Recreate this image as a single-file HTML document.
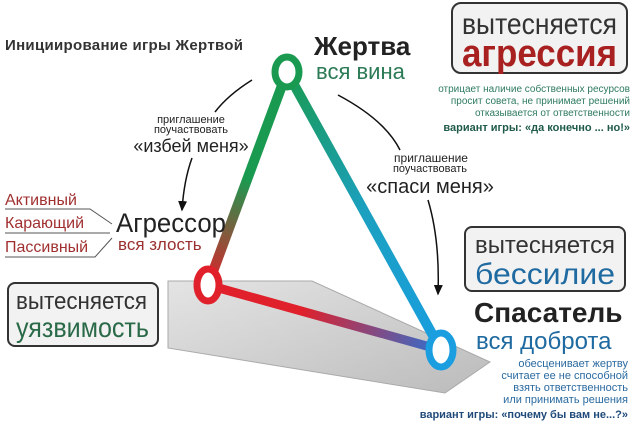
<!DOCTYPE html>
<html><head><meta charset="utf-8"><style>
html,body{margin:0;padding:0;background:#fff}
svg{display:block;font-family:"Liberation Sans","DejaVu Sans",sans-serif}
</style></head><body>
<svg width="635" height="425" viewBox="0 0 635 425" xmlns="http://www.w3.org/2000/svg">
<defs>
<linearGradient id="g1" gradientUnits="userSpaceOnUse" x1="287" y1="72" x2="208" y2="285"><stop offset="0.5" stop-color="#1a9a50"/><stop offset="1" stop-color="#e0202a"/></linearGradient>
<linearGradient id="g2" gradientUnits="userSpaceOnUse" x1="287" y1="72" x2="441" y2="350"><stop offset="0" stop-color="#1a9a50"/><stop offset="0.5" stop-color="#1ba0c0"/><stop offset="1" stop-color="#1a9ee0"/></linearGradient>
<linearGradient id="g3" gradientUnits="userSpaceOnUse" x1="208" y1="285" x2="441" y2="350"><stop offset="0.4" stop-color="#e0202a"/><stop offset="1" stop-color="#3070d0"/></linearGradient>
<linearGradient id="gr" x1="0" y1="0" x2="1" y2="1"><stop offset="0" stop-color="#e4e4e4"/><stop offset="1" stop-color="#bbb"/></linearGradient>
<marker id="ah" markerWidth="8" markerHeight="8" refX="6" refY="4" orient="auto"><path d="M0,1 L7,4 L0,7 Z" fill="#111"/></marker>
</defs>
<polygon points="168,281 312,281 490,362 445,393 168,348" fill="url(#gr)" stroke="#aaa" stroke-width="1"/>
<line x1="287" y1="72" x2="208" y2="285" stroke="url(#g1)" stroke-width="10"/>
<line x1="287" y1="72" x2="441" y2="350" stroke="url(#g2)" stroke-width="10"/>
<line x1="208" y1="285" x2="441" y2="350" stroke="url(#g3)" stroke-width="9"/>
<ellipse cx="287" cy="72" rx="12" ry="15" fill="#fff" stroke="#1a9a50" stroke-width="7"/>
<ellipse cx="208" cy="285" rx="11" ry="16" fill="#fff" stroke="#e0202a" stroke-width="7"/>
<ellipse cx="441" cy="350" rx="12" ry="17" fill="#fff" stroke="#1a9ee0" stroke-width="7"/>
<g fill="none" stroke="#111" stroke-width="1.5">
<path d="M252,80 Q228,95 215,112"/>
<path d="M192,158 Q184,180 182,210" marker-end="url(#ah)"/>
<path d="M338,95 Q385,120 400,150"/>
<path d="M428,200 Q440,240 438,294" marker-end="url(#ah)"/>
</g>
<text x="5" y="50" font-size="15" font-weight="bold" fill="#333" textLength="238">Инициирование игры Жертвой</text>
<text x="314" y="55" font-size="26" font-weight="bold" fill="#222">Жертва</text>
<text x="316" y="79" font-size="22" fill="#2a7a55">вся вина</text>
<rect x="452" y="3" width="175" height="70" rx="9" fill="#f2f2f2" stroke="#333" stroke-width="2"/>
<text x="462" y="34" font-size="30" fill="#333" textLength="155" lengthAdjust="spacingAndGlyphs">вытесняется</text>
<text x="462" y="66" font-size="38" font-weight="bold" fill="#a82020" textLength="155" lengthAdjust="spacingAndGlyphs">агрессия</text>
<g font-size="10" fill="#2e7a62" text-anchor="end">
<text x="630" y="92">отрицает наличие собственных ресурсов</text>
<text x="630" y="104">просит совета, не принимает решений</text>
<text x="630" y="116">отказывается от ответственности</text>
</g>
<text x="630" y="131" font-size="11" font-weight="bold" fill="#1f5a4a" text-anchor="end">вариант игры: «да конечно ... но!»</text>
<g text-anchor="middle" fill="#222">
<text x="431" y="162" font-size="12">приглашение</text>
<text x="430" y="172" font-size="11">поучаствовать</text>
<text x="430" y="193" font-size="20">«спаси меня»</text>
<text x="191" y="123" font-size="11">приглашение</text>
<text x="191" y="133" font-size="11">поучаствовать</text>
<text x="191" y="152" font-size="18">«избей меня»</text>
</g>
<text x="116" y="232" font-size="27" fill="#222" textLength="110" lengthAdjust="spacingAndGlyphs">Агрессор</text>
<text x="118" y="250" font-size="17" fill="#9a3030">вся злость</text>
<g font-size="16" fill="#a03030">
<text x="5" y="205">Активный</text>
<text x="5" y="228">Карающий</text>
<text x="5" y="252">Пассивный</text>
</g>
<g fill="none" stroke="#555" stroke-width="1">
<polyline points="5,209 90,209 112,224"/>
<line x1="5" y1="233" x2="110" y2="233"/>
<polyline points="5,257 95,257 112,238"/>
</g>
<rect x="8" y="283" width="150" height="63" rx="7" fill="#f2f2f2" stroke="#333" stroke-width="2"/>
<text x="16" y="309" font-size="24" fill="#333" textLength="131" lengthAdjust="spacingAndGlyphs">вытесняется</text>
<text x="16" y="337" font-size="28" fill="#2a6a48" textLength="133" lengthAdjust="spacingAndGlyphs">уязвимость</text>
<rect x="465" y="227" width="160" height="64" rx="7" fill="#f2f2f2" stroke="#333" stroke-width="2"/>
<text x="475" y="253" font-size="24" fill="#333" textLength="140" lengthAdjust="spacingAndGlyphs">вытесняется</text>
<text x="475" y="284" font-size="30" fill="#1f6aa0" textLength="140" lengthAdjust="spacingAndGlyphs">бессилие</text>
<text x="474" y="322" font-size="28" font-weight="bold" fill="#222">Спасатель</text>
<text x="476" y="349" font-size="24" fill="#1f6aa0">вся доброта</text>
<g font-size="11" fill="#2a6aa0" text-anchor="end">
<text x="628" y="367">обесценивает жертву</text>
<text x="628" y="379">считает ее не способной</text>
<text x="628" y="391">взять ответственность</text>
<text x="628" y="403">или принимать решения</text>
</g>
<text x="628" y="418" font-size="11" font-weight="bold" fill="#1f4a7a" text-anchor="end">вариант игры: «почему бы вам не...?»</text>
</svg>
</body></html>
